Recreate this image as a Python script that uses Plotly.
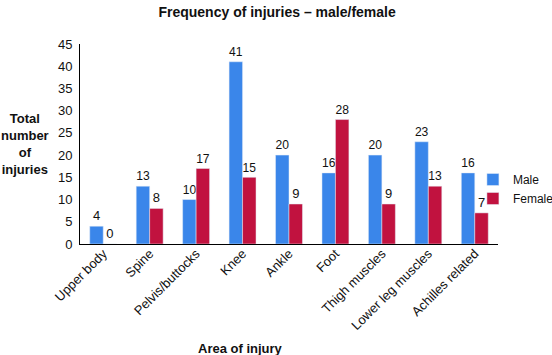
import plotly.graph_objects as go

categories = ["Upper body", "Spine", "Pelvis/buttocks", "Knee", "Ankle", "Foot",
              "Thigh muscles", "Lower leg muscles", "Achilles related"]
male = [4, 13, 10, 41, 20, 16, 20, 23, 16]
female = [0, 8, 17, 15, 9, 28, 9, 13, 7]
y_ticks = [0, 5, 10, 15, 20, 25, 30, 35, 40, 45]

FONT = "Liberation Sans, Arial, sans-serif"

fig = go.Figure()
fig.add_bar(x=categories, y=male, name="Male", marker_color="#3a86ea",
            text=male, textposition="outside", cliponaxis=False,
            textfont=dict(size=13, color="#111"))
fig.add_bar(x=categories, y=female, name="Female", marker_color="#c1123f",
            text=female, textposition="outside", cliponaxis=False,
            textfont=dict(size=13, color="#111"))

fig.update_layout(
    width=552, height=355,
    margin=dict(l=80, r=54, t=44, b=111, autoexpand=False),
    paper_bgcolor="white", plot_bgcolor="white",
    font=dict(family=FONT, size=13, color="#111"),
    barmode="group", bargap=0.42, bargroupgap=0,
    title=dict(text="<b>Frequency of injuries – male/female</b>", x=0.502, xanchor="center",
               y=0.966, yanchor="middle", font=dict(size=14)),
    legend=dict(x=0.94, xanchor="left", y=0.395, yanchor="top",
                font=dict(size=12), itemwidth=30, tracegroupgap=0,
                bgcolor="rgba(0,0,0,0)"),
    showlegend=True,
)
fig.update_xaxes(showline=True, linecolor="black", linewidth=1, tickangle=-45,
                 ticks="", showgrid=False, tickfont=dict(size=13), automargin=False,
                 ticklabelstandoff=-4)
fig.update_yaxes(showline=True, linecolor="black", linewidth=1, range=[0, 45],
                 tickvals=y_ticks, ticks="", showgrid=False, zeroline=False,
                 tickfont=dict(size=13), automargin=False, ticklabelstandoff=4)

fig.add_annotation(text="<b>Total<br>number<br>of<br>injuries</b>", xref="paper", yref="paper",
                   x=-0.132, y=0.5, xanchor="center", yanchor="middle", showarrow=False,
                   align="center", font=dict(size=13))
fig.add_annotation(text="<b>Area of injury</b>", xref="paper", yref="paper",
                   x=0.383, y=-0.52, xanchor="center", yanchor="middle", showarrow=False,
                   font=dict(size=13))

fig.write_html("out.html", config={"displayModeBar": False},
               post_script="document.body.style.margin='0';")
